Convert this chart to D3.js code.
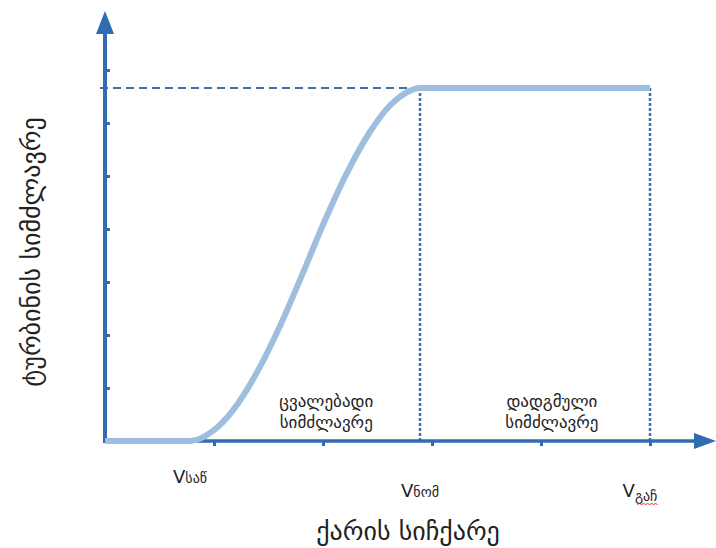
<!DOCTYPE html>
<html><head><meta charset="utf-8">
<script src="https://cdn.jsdelivr.net/npm/d3@7"></script>
<style>
html,body{margin:0;padding:0;background:#fff;}
svg{display:block;}
text{font-family:"DejaVu Sans","Noto Sans",sans-serif;fill:#222;}
</style></head>
<body><svg id="c" width="716" height="548"></svg>
<script>
// wind speed (arbitrary units) vs turbine power (arbitrary units)
const windSpeed = [0, 0.78, 0.99, 1.17, 1.39, 1.61, 1.82, 2.0, 2.22, 2.43, 2.61, 2.77, 2.89, 5];
const power     = [0, 0,    0.19, 0.57, 1.28, 2.19, 3.19, 4.08, 5.06, 5.83, 6.32, 6.58, 6.66, 6.66];
const xTickValues = [1, 2, 3, 4, 5];
const yTickValues = [1, 2, 3, 4, 5, 6, 7];
const cutIn = 0.78, rated = 2.89, cutOut = 5, ratedPower = 6.66;
const speedLabels = [
  {v: cutIn,  main: "V", sub: "საწ", dy: 0},
  {v: rated,  main: "V", sub: "ნომ", dy: 14},
  {v: cutOut, main: "V", sub: "გაჩ", dy: 14}
];
const regionLabels = [
  {v: 2.03, lines: ["ცვალებადი", "სიმძლავრე"]},
  {v: 4.1,  lines: ["დადგმული", "სიმძლავრე"]}
];
const xTitle = "ქარის სიჩქარე";
const yTitle = "ტურბინის სიმძლავრე";

const svg = d3.select("#c");
const axisColor = "#2f6db0", curveColor = "#9dbedd", dashColor = "#3a72b0";
const x = d3.scaleLinear().domain([0, 5]).range([105, 650]);
const y = d3.scaleLinear().domain([0, 8]).range([441, 17]);

// dashed guides
svg.append("line").attr("x1", x(0) - 5).attr("x2", x(rated)).attr("y1", y(ratedPower)).attr("y2", y(ratedPower))
  .attr("stroke", dashColor).attr("stroke-width", 2).attr("stroke-dasharray", "8,5");
[rated, cutOut].forEach(v => {
  svg.append("line").attr("x1", x(v)).attr("x2", x(v)).attr("y1", y(ratedPower)).attr("y2", y(0))
    .attr("stroke", dashColor).attr("stroke-width", 2.5).attr("stroke-dasharray", "3,2");
});

// axes
const xAxis = d3.axisBottom(x).tickValues(xTickValues).tickSize(5).tickFormat("");
const gx = svg.append("g").attr("transform", `translate(0,${y(0)})`).call(xAxis);
gx.select(".domain").remove();
gx.selectAll(".tick line").attr("stroke", axisColor).attr("stroke-width", 3);
const yAxis = d3.axisRight(y).tickValues(yTickValues).tickSize(5).tickFormat("");
const gy = svg.append("g").attr("transform", `translate(${x(0)},0)`).call(yAxis);
gy.select(".domain").remove();
gy.selectAll(".tick line").attr("stroke", axisColor).attr("stroke-width", 3);

svg.append("line").attr("x1", x(0) - 2).attr("x2", 696).attr("y1", y(0)).attr("y2", y(0))
  .attr("stroke", axisColor).attr("stroke-width", 3.5);
svg.append("path").attr("d", `M716,${y(0)} L694,${y(0) - 8} L694,${y(0) + 8} Z`).attr("fill", axisColor);
svg.append("line").attr("x1", x(0)).attr("x2", x(0)).attr("y1", y(0) + 2).attr("y2", 32)
  .attr("stroke", axisColor).attr("stroke-width", 4);
svg.append("path").attr("d", `M${x(0)},11 L${x(0) - 9},34 L${x(0) + 9},34 Z`).attr("fill", axisColor);

// curve
const pts = windSpeed.map((d, i) => [d, power[i]]);
const line = d3.line().x(d => x(d[0])).y(d => y(d[1])).curve(d3.curveMonotoneX);
svg.append("path").datum(pts).attr("d", line).attr("fill", "none")
  .attr("stroke", curveColor).attr("stroke-width", 6).attr("stroke-linecap", "butt");

// speed labels
speedLabels.forEach(l => {
  const t = svg.append("text").attr("x", x(l.v) - (l.v === cutOut ? 10 : 0)).attr("y", 483 + l.dy)
    .attr("text-anchor", "middle");
  t.append("tspan").attr("font-size", 18).text(l.main);
  const s = t.append("tspan").attr("font-size", 14);
  if (l.v === cutOut) s.attr("dy", 4);
  s.text(l.sub);
  if (l.v === cutOut) {
    const bb = t.node().getBBox();
    const x0 = bb.x + 15, x1 = bb.x + bb.width;
    const yy = bb.y + bb.height + 1;
    let d = `M${x0},${yy}`;
    for (let xx = x0; xx < x1; xx += 4) d += ` l2,-2 l2,2`;
    svg.append("path").attr("d", d).attr("fill", "none").attr("stroke", "#e03030").attr("stroke-width", 1);
  }
});

// region labels
regionLabels.forEach(r => {
  r.lines.forEach((s, i) => {
    svg.append("text").attr("x", x(r.v)).attr("y", 407 + i * 21).attr("text-anchor", "middle")
      .attr("font-size", 17).text(s);
  });
});

// titles
svg.append("text").attr("x", 408).attr("y", 540).attr("text-anchor", "middle").attr("font-size", 26).text(xTitle);
svg.append("text").attr("transform", "translate(40,252) rotate(-90)").attr("text-anchor", "middle")
  .attr("font-size", 26).text(yTitle);
</script></body></html>
